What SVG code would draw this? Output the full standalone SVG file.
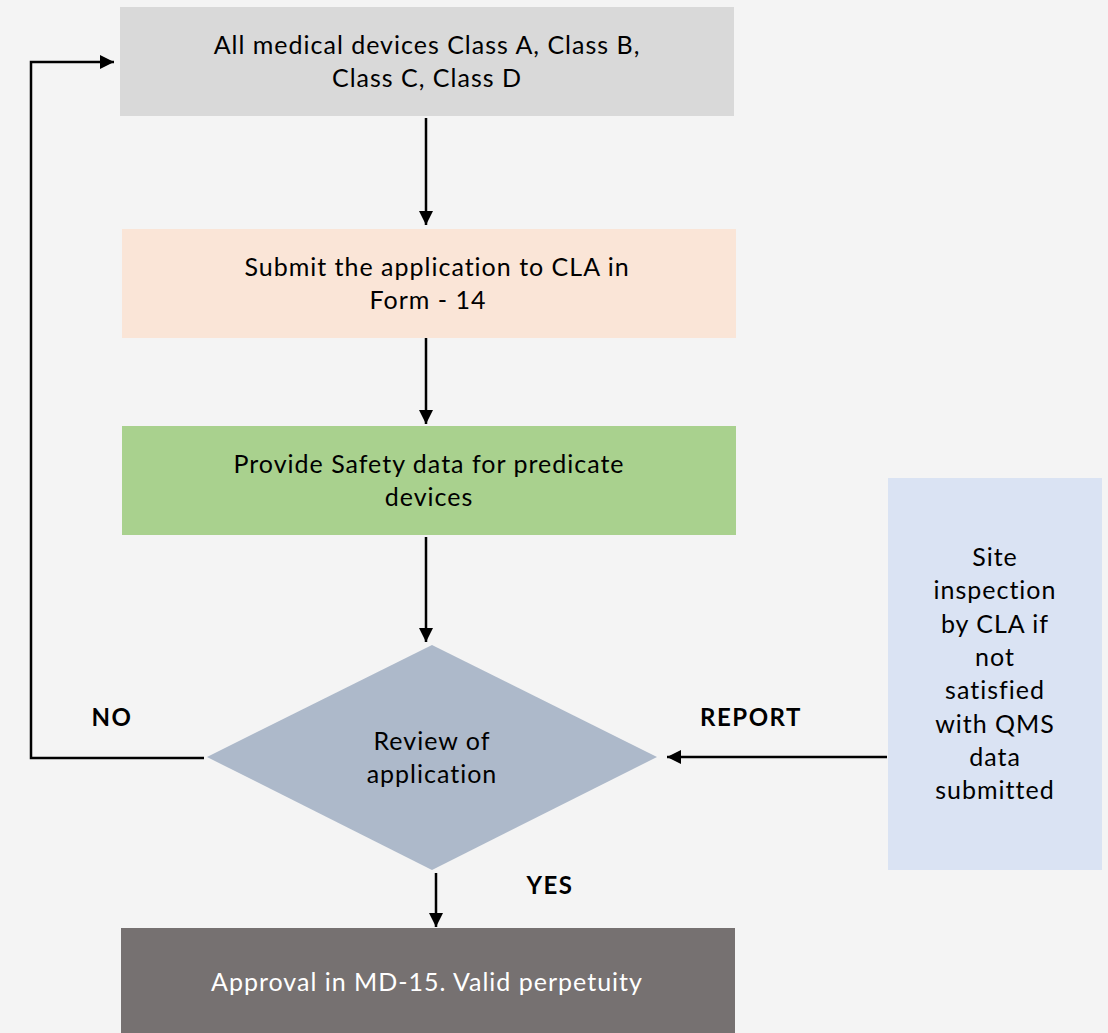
<svg xmlns="http://www.w3.org/2000/svg" width="1108" height="1033" viewBox="0 0 1108 1033">
<defs>
<marker id="ah" viewBox="0 0 10 10" refX="10" refY="5" markerWidth="14" markerHeight="14" markerUnits="userSpaceOnUse" orient="auto"><path d="M0,0 L10,5 L0,10 z" fill="#000"/></marker>
<style>
.t{font-family:Lato,"Noto Sans",sans-serif;font-size:25px;letter-spacing:1px;fill:#000;text-anchor:middle}
.w{fill:#fff}
.b{font-family:Lato,"Noto Sans",sans-serif;font-size:24px;letter-spacing:1.5px;font-weight:bold;fill:#000;text-anchor:middle}
.c{fill:none;stroke:#000;stroke-width:2.5}
</style>
</defs>
<rect width="1108" height="1033" fill="#f4f4f4"/>
<g id="connectors">
<line class="c" x1="426" y1="118" x2="426" y2="225" marker-end="url(#ah)"/>
<line class="c" x1="426" y1="338" x2="426" y2="424" marker-end="url(#ah)"/>
<line class="c" x1="426" y1="537" x2="426" y2="642" marker-end="url(#ah)"/>
<polyline class="c" points="204,758 31,758 31,62 114,62" marker-end="url(#ah)"/>
<line class="c" x1="887" y1="757" x2="667" y2="757" marker-end="url(#ah)"/>
<line class="c" x1="436" y1="873" x2="436" y2="927" marker-end="url(#ah)"/>
<text class="b" x="112" y="726">NO</text>
<text class="b" x="751" y="726">REPORT</text>
<text class="b" x="550" y="894">YES</text>
</g>
<g id="n1">
<rect x="120" y="7" width="614" height="109" fill="#d9d9d9"/>
<text class="t" x="427" y="54">All medical devices Class A, Class B,</text>
<text class="t" x="427" y="87">Class C, Class D</text>
</g>
<g id="n2">
<rect x="122" y="229" width="614" height="109" fill="#fae5d7"/>
<text class="t" x="437" y="276">Submit the application to CLA in</text>
<text class="t" x="428" y="309">Form - 14</text>
</g>
<g id="n3">
<rect x="122" y="426" width="614" height="109" fill="#a9d18e"/>
<text class="t" x="429" y="473">Provide Safety data for predicate</text>
<text class="t" x="429" y="506">devices</text>
</g>
<g id="n4">
<polygon points="432,645 657,757 432,870 207,757" fill="#adb9ca"/>
<text class="t" x="432" y="750">Review of</text>
<text class="t" x="432" y="783">application</text>
</g>
<g id="n5">
<rect x="121" y="928" width="614" height="105" fill="#767171"/>
<text class="t w" x="427" y="991">Approval in MD-15. Valid perpetuity</text>
</g>
<g id="n6">
<rect x="888" y="478" width="214" height="392" fill="#dae3f3"/>
<text class="t" x="995" y="566">Site</text>
<text class="t" x="995" y="599">inspection</text>
<text class="t" x="995" y="633">by CLA if</text>
<text class="t" x="995" y="666">not</text>
<text class="t" x="995" y="699">satisfied</text>
<text class="t" x="995" y="733">with QMS</text>
<text class="t" x="995" y="766">data</text>
<text class="t" x="995" y="799">submitted</text>
</g>
</svg>
